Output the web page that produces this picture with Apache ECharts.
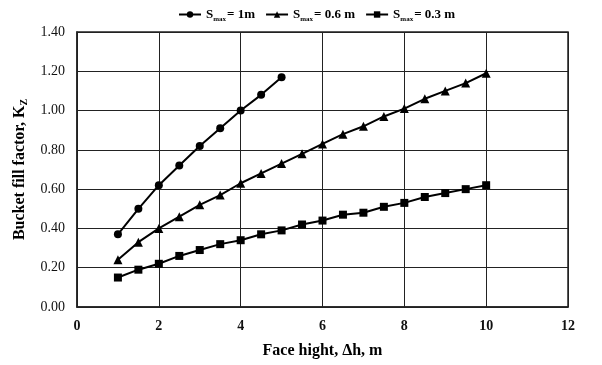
<!DOCTYPE html>
<html>
<head>
<meta charset="utf-8">
<script src="https://cdn.jsdelivr.net/npm/echarts@6/dist/echarts.min.js"></script>
<style>
  html, body { margin: 0; padding: 0; background: #fff; }
  #chart { width: 602px; height: 365px; }
</style>
</head>
<body>
<div id="chart"></div>
<script>
// face height, m
const hShort = [1, 1.5, 2, 2.5, 3, 3.5, 4, 4.5, 5];
const hLong = [1, 1.5, 2, 2.5, 3, 3.5, 4, 4.5, 5, 5.5, 6, 6.5, 7, 7.5, 8, 8.5, 9, 9.5, 10];
// bucket fill factor Kz
const kz1 = [0.37, 0.50, 0.62, 0.72, 0.82, 0.91, 1.00, 1.08, 1.17];
const kz06 = [0.24, 0.33, 0.40, 0.46, 0.52, 0.57, 0.63, 0.68, 0.73, 0.78, 0.83, 0.88, 0.92, 0.97, 1.01, 1.06, 1.10, 1.14, 1.19];
const kz03 = [0.15, 0.19, 0.22, 0.26, 0.29, 0.32, 0.34, 0.37, 0.39, 0.42, 0.44, 0.47, 0.48, 0.51, 0.53, 0.56, 0.58, 0.60, 0.62];
const legendNames = ['1m', '0.6 m', '0.3 m'];

const serif = '"Liberation Serif", "DejaVu Serif", serif';

function pairs(xs, ys) {
  return xs.map((x, i) => [x, ys[i]]);
}

const myechart = echarts.init(document.getElementById('chart'));

const option = {
  animation: false,
  backgroundColor: '#fff',
  grid: {
    left: 77, right: 34, top: 32, bottom: 58,
    show: true,
    borderColor: '#222',
    borderWidth: 1.5
  },
  legend: {
    top: 3,
    left: 173,
    itemWidth: 22,
    itemHeight: 8,
    itemGap: 10,
    data: legendNames,
    formatter: function (name) {
      return '{a|S}{b|max}{a|= ' + name + '}';
    },
    textStyle: {
      rich: {
        a: { fontFamily: serif, fontWeight: 'bold', fontSize: 13, color: '#000' },
        b: { fontFamily: serif, fontWeight: 'bold', fontSize: 7, color: '#000', padding: [9, 1, 0, 0] }
      }
    }
  },
  xAxis: {
    type: 'value',
    min: 0, max: 12, interval: 2,
    name: 'Face hight, \u0394h, m',
    nameLocation: 'middle',
    nameGap: 36,
    nameTextStyle: { fontFamily: serif, fontWeight: 'bold', fontSize: 16, color: '#000' },
    axisLine: { show: true, lineStyle: { color: '#222', width: 1.5 } },
    axisTick: { show: false },
    axisLabel: { fontFamily: serif, fontWeight: 'bold', fontSize: 14, color: '#111', margin: 12 },
    splitLine: { show: true, lineStyle: { color: '#222', width: 1 } }
  },
  yAxis: {
    type: 'value',
    min: 0, max: 1.4, interval: 0.2,
    name: '{a|Bucket fill factor, K}{b|Z}',
    nameLocation: 'middle',
    nameGap: 44,
    nameTextStyle: {
      rich: {
        a: { fontFamily: serif, fontWeight: 'bold', fontSize: 16, color: '#000' },
        b: { fontFamily: serif, fontWeight: 'bold', fontSize: 10, color: '#000', padding: [9, 0, 0, 0] }
      }
    },
    axisLine: { show: true, lineStyle: { color: '#222', width: 1.5 } },
    axisTick: { show: false },
    axisLabel: {
      fontFamily: serif, fontSize: 14, color: '#111', margin: 12,
      formatter: v => v.toFixed(2)
    },
    splitLine: { show: true, lineStyle: { color: '#222', width: 1 } }
  },
  series: [
    {
      name: legendNames[0], type: 'line', data: pairs(hShort, kz1),
      symbol: 'circle', symbolSize: 8,
      lineStyle: { color: '#000', width: 2 }, itemStyle: { color: '#000' }
    },
    {
      name: legendNames[1], type: 'line', data: pairs(hLong, kz06),
      symbol: 'triangle', symbolSize: 9,
      lineStyle: { color: '#000', width: 2 }, itemStyle: { color: '#000' }
    },
    {
      name: legendNames[2], type: 'line', data: pairs(hLong, kz03),
      symbol: 'rect', symbolSize: 8,
      lineStyle: { color: '#000', width: 2 }, itemStyle: { color: '#000' }
    }
  ]
};

myechart.setOption(option);
</script>
</body>
</html>
